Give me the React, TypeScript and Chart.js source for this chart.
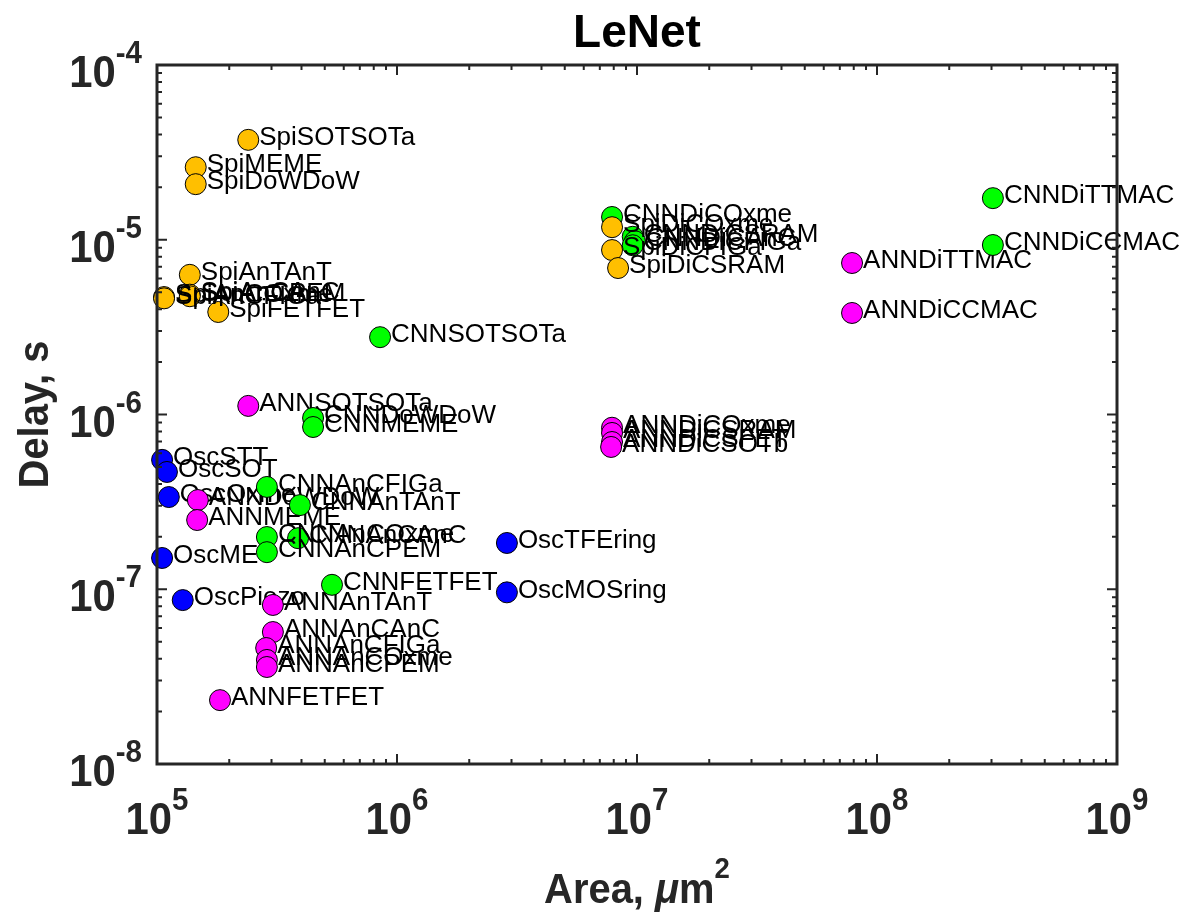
import React, { useEffect, useRef } from "react";
import { Chart, registerables } from "chart.js";

Chart.register(...registerables);

// ---- data (Area in µm², Delay in s) ----
const oscNames = ["OscSTT", "OscSOT", "OscOxme", "OscME", "OscPiezo", "OscTFEring", "OscMOSring"];
const oscArea = [1.05e5, 1.1e5, 1.12e5, 1.05e5, 1.28e5, 2.87e6, 2.87e6];
const oscDelay = [5.5e-7, 4.69e-7, 3.37e-7, 1.51e-7, 8.67e-8, 1.84e-7, 9.6e-8];

const annNames = [
  "ANNDiTTMAC", "ANNDiCCMAC", "ANNDiCOxme", "ANNDiCSRAM", "ANNDiCSFET", "ANNDiCSOTb",
  "ANNSOTSOTa", "ANNDoWDoW", "ANNMEME", "ANNAnTAnT", "ANNAnCAnC", "ANNAnCFIGa",
  "ANNAnCOxme", "ANNAnCPEM", "ANNFETFET",
];
const annArea = [
  7.87e7, 7.87e7, 7.87e6, 7.87e6, 7.87e6, 7.8e6,
  2.4e5, 1.48e5, 1.47e5, 3.04e5, 3.04e5, 2.85e5,
  2.87e5, 2.87e5, 1.83e5,
];
const annDelay = [
  7.36e-6, 3.81e-6, 8.4e-7, 7.84e-7, 6.96e-7, 6.52e-7,
  1.12e-6, 3.24e-7, 2.49e-7, 8.13e-8, 5.69e-8, 4.61e-8,
  3.94e-8, 3.59e-8, 2.32e-8,
];

const cnnNames = [
  "CNNDiTTMAC", "CNNDiCCMAC", "CNNDiCOxme", "CNNDiCSRAM", "CNNDiCAnC", "CNNDiCFIGa",
  "CNNSOTSOTa", "CNNDoWDoW", "CNNMEME", "CNNAnCFIGa", "CNNAnTAnT", "CNNAnCOxme",
  "CNNAnCAnC", "CNNAnCPEM", "CNNFETFET",
];
const cnnArea = [
  3.04e8, 3.04e8, 7.87e6, 9.6e6, 9.8e6, 9.6e6,
  8.5e5, 4.47e5, 4.47e5, 2.87e5, 3.94e5, 2.87e5,
  3.87e5, 2.87e5, 5.36e5,
];
const cnnDelay = [
  1.73e-5, 9.33e-6, 1.35e-5, 1.04e-5, 9.8e-6, 9.3e-6,
  2.77e-6, 9.55e-7, 8.48e-7, 3.85e-7, 3.03e-7, 1.99e-7,
  1.96e-7, 1.63e-7, 1.06e-7,
];

const spiNames = [
  "SpiSOTSOTa", "SpiMEME", "SpiDoWDoW", "SpiAnTAnT", "SpiAnCOxme", "SpiAnCFIGa",
  "SpiAnCAnC", "SpiAnCPEM", "SpiFETFET", "SpiDiCOxme", "SpiDiCFIGa", "SpiDiCSRAM",
];
const spiArea = [
  2.4e5, 1.45e5, 1.45e5, 1.37e5, 1.07e5, 1.07e5,
  1.37e5, 1.37e5, 1.8e5, 7.87e6, 7.87e6, 8.34e6,
];
const spiDelay = [
  3.73e-5, 2.6e-5, 2.08e-5, 6.3e-6, 4.7e-6, 4.62e-6,
  4.85e-6, 4.75e-6, 3.86e-6, 1.18e-5, 8.73e-6, 6.89e-6,
];

const xTickExps = [5, 6, 7, 8, 9];
const yTickExps = [-4, -5, -6, -7, -8];

const titleText = "LeNet";
const xTitleText = "Area, ";
const yTitleText = "Delay, s";

const AXIS_COLOR = "#262626";
const FONT = "'Liberation Sans', Arial, Helvetica, sans-serif";
const SX = 0.95; // slight horizontal condensation of bold axis text

function makeData(names: string[], xs: number[], ys: number[]) {
  return names.map((_, i) => ({ x: xs[i], y: ys[i] }));
}

export default function App() {
  const ref = useRef<HTMLCanvasElement | null>(null);

  useEffect(() => {
    document.body.style.margin = "0";
    const canvas = ref.current;
    if (!canvas) return;

    const labelsByDataset: string[][] = [spiNames, cnnNames, annNames, oscNames];

    const condensedText = (ctx: any, text: string, x: number, y: number) => {
      ctx.save();
      ctx.translate(x, y);
      ctx.scale(SX, 1);
      ctx.fillText(text, 0, 0);
      ctx.restore();
    };

    const plugin = {
      id: "matlabStyle",
      beforeDraw(chart: any) {
        const ctx = chart.ctx;
        ctx.save();
        ctx.fillStyle = "#ffffff";
        ctx.fillRect(0, 0, chart.width, chart.height);
        ctx.restore();
      },
      afterDatasetDraw(chart: any, args: any) {
        const ctx = chart.ctx;
        const names = labelsByDataset[args.index];
        const meta = args.meta;
        ctx.save();
        ctx.font = `26px ${FONT}`;
        ctx.fillStyle = "#000000";
        ctx.textAlign = "left";
        ctx.textBaseline = "middle";
        meta.data.forEach((el: any, i: number) => {
          ctx.fillText(names[i], el.x + 11, el.y - 2);
        });
        ctx.restore();
      },
      afterDraw(chart: any) {
        const ctx = chart.ctx;
        const { left, right, top, bottom } = chart.chartArea;
        const xs = chart.scales.x;
        const ys = chart.scales.y;
        ctx.save();
        // ticks
        ctx.strokeStyle = AXIS_COLOR;
        ctx.lineWidth = 2;
        const majorLen = 10;
        const minorLen = 5;
        ctx.beginPath();
        for (let e = 5; e <= 9; e++) {
          for (let m = 1; m <= 9; m++) {
            if (e === 9 && m > 1) break;
            const px = xs.getPixelForValue(m * Math.pow(10, e));
            const len = m === 1 ? majorLen : minorLen;
            ctx.moveTo(px, bottom);
            ctx.lineTo(px, bottom - len);
            ctx.moveTo(px, top);
            ctx.lineTo(px, top + len);
          }
        }
        for (let e = -8; e <= -4; e++) {
          for (let m = 1; m <= 9; m++) {
            if (e === -4 && m > 1) break;
            const py = ys.getPixelForValue(m * Math.pow(10, e));
            const len = m === 1 ? majorLen : minorLen;
            ctx.moveTo(left, py);
            ctx.lineTo(left + len, py);
            ctx.moveTo(right, py);
            ctx.lineTo(right - len, py);
          }
        }
        ctx.stroke();
        // box
        ctx.lineWidth = 3;
        ctx.strokeRect(left, top, right - left, bottom - top);

        // tick labels
        const bigFont = `bold 44px ${FONT}`;
        const supFont = `bold 31px ${FONT}`;
        ctx.fillStyle = AXIS_COLOR;
        ctx.textBaseline = "alphabetic";
        ctx.textAlign = "left";
        xTickExps.forEach((e) => {
          const px = xs.getPixelForValue(Math.pow(10, e));
          ctx.font = bigFont;
          const w10 = ctx.measureText("10").width * SX;
          ctx.font = supFont;
          const we = ctx.measureText(String(e)).width * SX;
          const start = px - (w10 + we) / 2;
          ctx.font = bigFont;
          condensedText(ctx, "10", start, 834);
          ctx.font = supFont;
          condensedText(ctx, String(e), start + w10, 810);
        });
        yTickExps.forEach((e) => {
          const py = ys.getPixelForValue(Math.pow(10, e));
          ctx.font = supFont;
          const we = ctx.measureText(String(e)).width * SX;
          ctx.font = bigFont;
          const w10 = ctx.measureText("10").width * SX;
          const endX = 142;
          condensedText(ctx, "10", endX - we - w10, py + 22);
          ctx.font = supFont;
          condensedText(ctx, String(e), endX - we, py - 2);
        });

        // title
        ctx.fillStyle = "#000000";
        ctx.font = `bold 46px ${FONT}`;
        ctx.textAlign = "center";
        ctx.fillText(titleText, (left + right) / 2, 47);

        // x axis title: "Area, μm²"
        ctx.fillStyle = AXIS_COLOR;
        ctx.textAlign = "left";
        const f1 = `bold 42px ${FONT}`;
        const fMu = `italic bold 42px ${FONT}`;
        const fSup = `bold 29px ${FONT}`;
        ctx.font = f1;
        const wA = ctx.measureText(xTitleText).width * SX;
        const wM = ctx.measureText("m").width * SX;
        ctx.font = fMu;
        const wMu = ctx.measureText("μ").width * SX;
        ctx.font = fSup;
        const w2 = ctx.measureText("2").width * SX;
        let sx = (left + right) / 2 - (wA + wMu + wM + w2) / 2;
        const by = 903;
        ctx.font = f1;
        condensedText(ctx, xTitleText, sx, by);
        sx += wA;
        ctx.font = fMu;
        condensedText(ctx, "μ", sx, by);
        sx += wMu;
        ctx.font = f1;
        condensedText(ctx, "m", sx, by);
        sx += wM;
        ctx.font = fSup;
        condensedText(ctx, "2", sx, by - 25);

        // y axis title
        ctx.save();
        ctx.translate(48, (top + bottom) / 2);
        ctx.rotate(-Math.PI / 2);
        ctx.scale(SX, 1);
        ctx.font = f1;
        ctx.textAlign = "center";
        ctx.fillText(yTitleText, 0, 0);
        ctx.restore();

        ctx.restore();
      },
    };

    const mk = (label: string, names: string[], xs: number[], ys: number[], color: string) => ({
      label,
      data: makeData(names, xs, ys),
      backgroundColor: color,
      borderColor: "#000000",
      borderWidth: 1,
      pointRadius: 10.5,
      pointHoverRadius: 10.5,
      clip: false as any,
    });

    const chart = new Chart(canvas, {
      type: "scatter",
      data: {
        datasets: [
          mk("Spi", spiNames, spiArea, spiDelay, "#FFBF00"),
          mk("CNN", cnnNames, cnnArea, cnnDelay, "#00FF00"),
          mk("ANN", annNames, annArea, annDelay, "#FF00FF"),
          mk("Osc", oscNames, oscArea, oscDelay, "#0000FF"),
        ],
      },
      options: {
        responsive: false,
        animation: false,
        events: [],
        layout: { padding: { left: 157, top: 65, right: 72, bottom: 160 } },
        plugins: {
          legend: { display: false },
          tooltip: { enabled: false },
          title: { display: false },
        },
        scales: {
          x: { type: "logarithmic", min: 1e5, max: 1e9, display: false },
          y: { type: "logarithmic", min: 1e-8, max: 1e-4, display: false },
        },
      },
      plugins: [plugin],
    });

    return () => chart.destroy();
  }, []);

  return <canvas ref={ref} width={1189} height={924} style={{ display: "block" }} />;
}
